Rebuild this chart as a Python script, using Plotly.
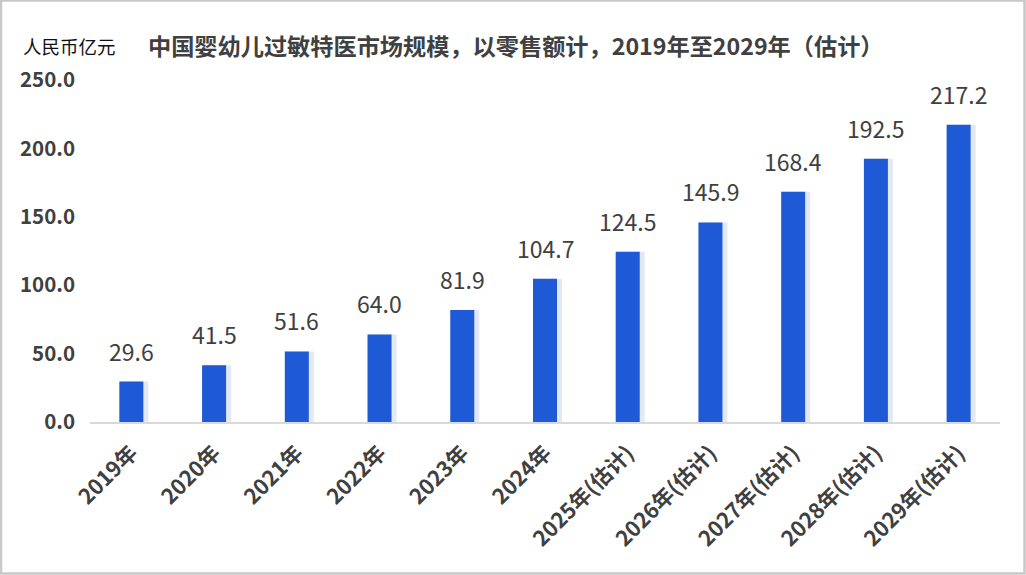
import plotly.graph_objects as go

years = ["2019年", "2020年", "2021年", "2022年", "2023年", "2024年",
         "2025年(估计)", "2026年(估计)", "2027年(估计)", "2028年(估计)", "2029年(估计)"]
market_size = [29.6, 41.5, 51.6, 64.0, 81.9, 104.7, 124.5, 145.9, 168.4, 192.5, 217.2]
y_ticks = [0, 50, 100, 150, 200, 250]

W, H = 1026, 575
ml, mr, mt, mb = 90, 26, 80, 153
pw, ph = W - ml - mr, H - mt - mb


def px(x):
    return (x - ml) / pw


def py(y):
    return (H - mb - y) / ph


font = "Noto Sans CJK SC, Microsoft YaHei, sans-serif"
bar_w = 24 / (pw / len(years))

fig = go.Figure()
# faint shadow to the right of each bar
fig.add_trace(go.Bar(
    x=years, y=market_size,
    width=bar_w + 5 / (pw / len(years)), offset=-bar_w / 2,
    marker=dict(color="#e3e8f4", line=dict(width=0)),
    hoverinfo="skip",
))
fig.add_trace(go.Bar(
    x=years, y=market_size,
    width=bar_w, offset=-bar_w / 2,
    marker=dict(color="#1f5ad6", line=dict(width=0)),
    hoverinfo="x+y",
))

for yr, v in zip(years, market_size):
    fig.add_annotation(
        x=yr, y=v, text=f"{v:.1f}", showarrow=False,
        yanchor="bottom", yshift=12,
        font=dict(size=23, color="#404040", family=font),
    )

fig.add_annotation(
    xref="paper", yref="paper", x=px(146), y=py(45),
    xanchor="left", yanchor="middle", showarrow=False,
    text="<b>中国婴幼儿过敏特医市场规模，以零售额计，2019年至2029年（估计）</b>",
    font=dict(size=23.2, color="#404040", family=font),
)
fig.add_annotation(
    xref="paper", yref="paper", x=px(21), y=py(46),
    xanchor="left", yanchor="middle", showarrow=False,
    text="人民币亿元",
    font=dict(size=18.5, color="#111111", family=font),
)

# outer border
fig.add_shape(
    type="rect", xref="paper", yref="paper",
    x0=px(1), x1=px(1024.5), y0=py(573.5), y1=py(0.5),
    line=dict(color="#c8c8c8", width=2.5), fillcolor="rgba(0,0,0,0)",
)

fig.update_layout(
    width=W, height=H,
    margin=dict(l=ml, r=mr, t=mt, b=mb),
    paper_bgcolor="white", plot_bgcolor="white",
    barmode="overlay",
    showlegend=False,
    font=dict(family=font, color="#404040"),
)
fig.update_xaxes(
    tickangle=-45,
    tickfont=dict(size=21.5, color="#404040", family=font),
    showline=True, linecolor="#d9d9d9", linewidth=2,
    ticks="", showgrid=False,
    ticklabelstandoff=8,
    tickprefix="<b>", ticksuffix="</b>",
)
fig.update_yaxes(
    range=[0, 250],
    tickvals=y_ticks,
    ticktext=[f"<b>{t:.1f}</b>" for t in y_ticks],
    tickfont=dict(size=20.5, color="#404040", family=font),
    showgrid=False, zeroline=False, showline=False,
    ticklabelstandoff=14,
)

fig.write_html("out.html", config={"displayModeBar": False},
               post_script="document.body.style.margin='0px';")
